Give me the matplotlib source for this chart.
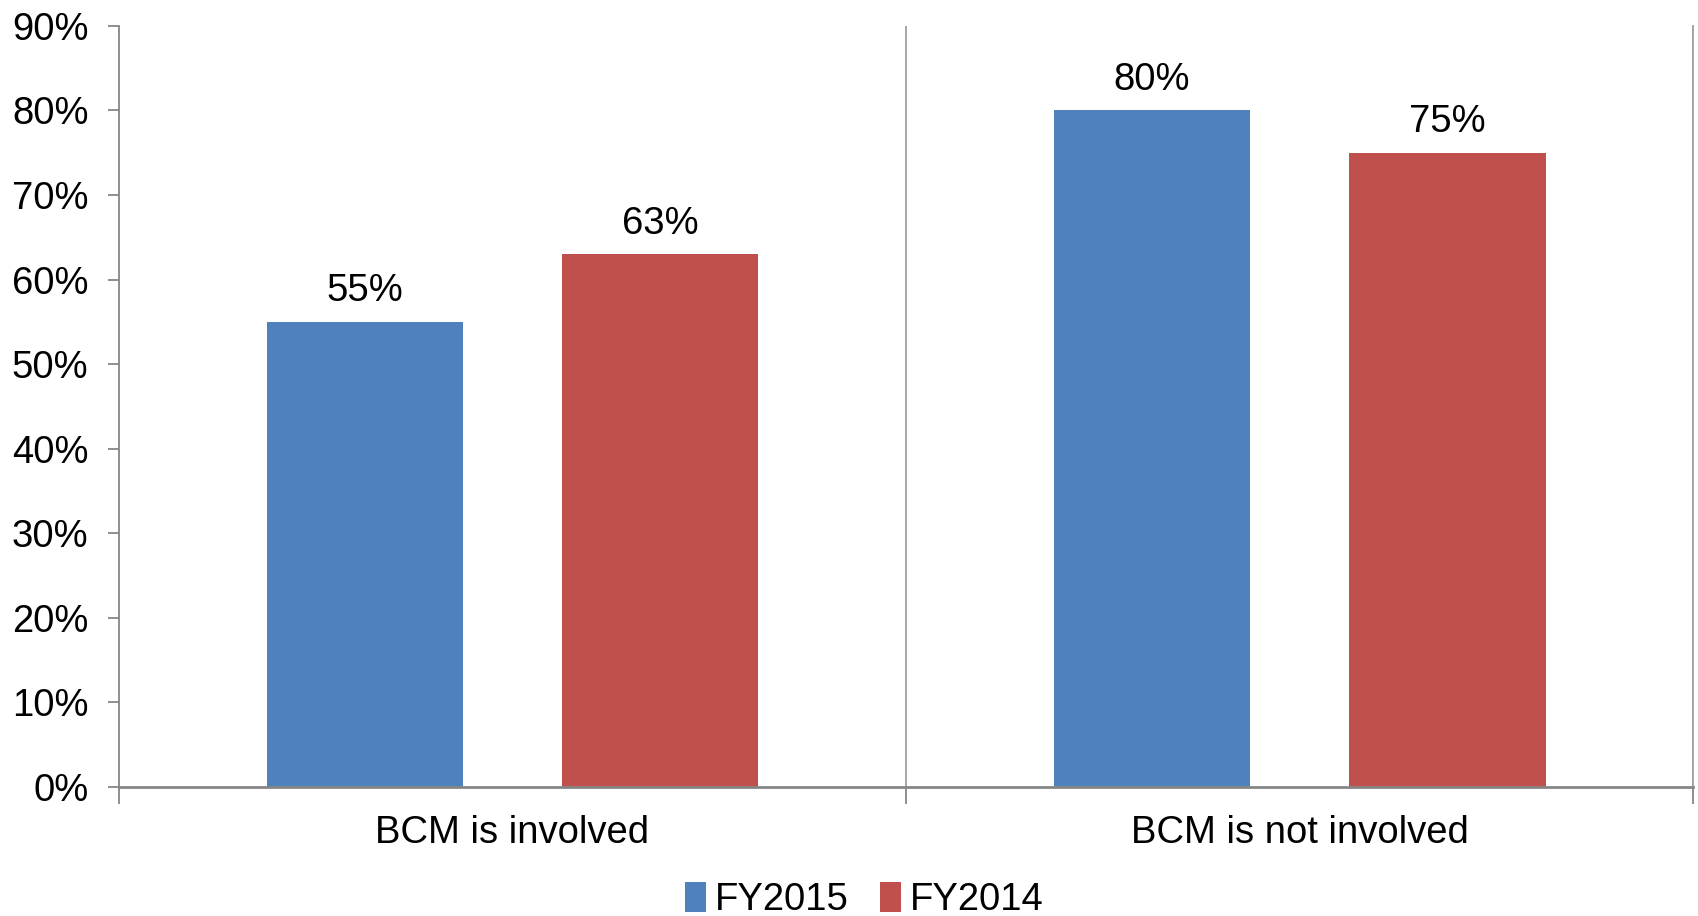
import matplotlib
matplotlib.use('Agg')
import matplotlib.pyplot as plt
import numpy as np

plt.rcParams['font.family'] = ['Liberation Sans', 'DejaVu Sans']

categories = ['BCM is involved', 'BCM is not involved']
fy2015 = [55, 80]
fy2014 = [63, 75]
series_names = ['FY2015', 'FY2014']
colors = ['#4F81BD', '#C0504D']

fig = plt.figure(figsize=(16.98, 9.16), dpi=100)
ax = fig.add_axes([0.0701, 0.1408, 0.927, 0.831])

x = np.arange(len(categories))
w = 0.25
b1 = ax.bar(x - 0.1875, fy2015, w, color=colors[0], label=series_names[0])
b2 = ax.bar(x + 0.1875, fy2014, w, color=colors[1], label=series_names[1])

for bars in (b1, b2):
    for rect in bars:
        v = rect.get_height()
        ax.annotate('%d%%' % v, (rect.get_x() + rect.get_width() / 2, v),
                    xytext=(0, 9), textcoords='offset points',
                    ha='center', va='bottom', fontsize=27.5)

ax.set_xlim(-0.5, len(categories) - 0.5)
ax.set_ylim(0, 90)
ax.set_yticks(range(0, 91, 10))
ax.set_yticklabels(['%d%%' % t for t in range(0, 91, 10)], fontsize=27.5)

# category separators
for b in np.arange(0.5, len(categories), 1.0):
    ax.axvline(b, color='#A0A0A0', lw=1.3, zorder=0)

ax.set_xticks(np.arange(-0.5, len(categories), 1.0))
ax.set_xticklabels([])
ax.set_xticks(x, minor=True)
ax.set_xticklabels(categories, minor=True, fontsize=27.5)
ax.tick_params(axis='x', which='minor', length=0, pad=20)
ax.tick_params(axis='x', which='major', length=12, color='#868686', width=1.3)
ax.tick_params(axis='y', length=8, color='#868686', width=1.3, pad=14)

ax.spines['top'].set_visible(False)
ax.spines['right'].set_color('#A0A0A0')
ax.spines['right'].set_linewidth(1.3)
ax.spines['left'].set_color('#868686')
ax.spines['left'].set_linewidth(1.3)
ax.spines['bottom'].set_color('#868686')
ax.spines['bottom'].set_linewidth(2)

fig.legend(loc='lower center', bbox_to_anchor=(0.509, -0.04), ncol=2, frameon=False,
           fontsize=27.5, handlelength=0.55, handleheight=0.8, handletextpad=0.25,
           columnspacing=0.8)

fig.savefig('out.png', dpi=100)
